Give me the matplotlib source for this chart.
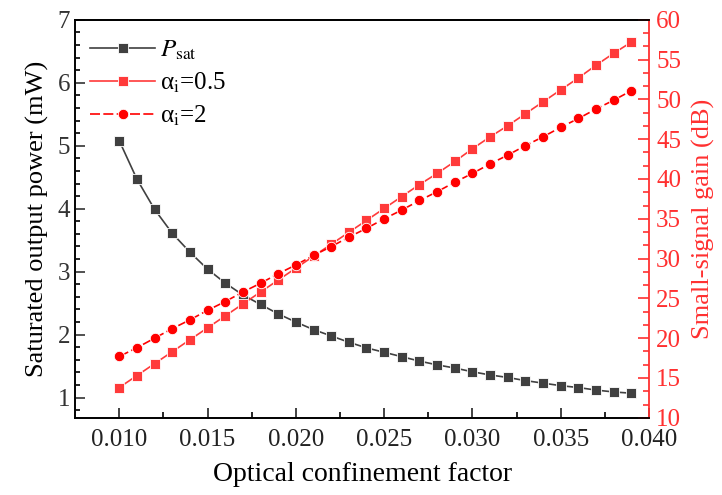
import numpy as np
import matplotlib
matplotlib.use("Agg")
import matplotlib.pyplot as plt
from matplotlib.ticker import MultipleLocator, AutoMinorLocator

plt.rcParams['font.family'] = ['Liberation Serif', 'DejaVu Serif']
plt.rcParams['mathtext.fontset'] = 'stix'

# confinement factor (x axis)
gamma = [0.010, 0.011, 0.012, 0.013, 0.014, 0.015, 0.016, 0.017, 0.018, 0.019,
         0.020, 0.021, 0.022, 0.023, 0.024, 0.025, 0.026, 0.027, 0.028, 0.029,
         0.030, 0.031, 0.032, 0.033, 0.034, 0.035, 0.036, 0.037, 0.038, 0.039]

# saturated output power, mW
p_sat = [5.08, 4.47, 3.99, 3.61, 3.31, 3.04, 2.82, 2.63, 2.48, 2.33,
         2.20, 2.08, 1.98, 1.88, 1.79, 1.72, 1.65, 1.58, 1.52, 1.47,
         1.41, 1.36, 1.32, 1.27, 1.23, 1.19, 1.16, 1.12, 1.09, 1.07]

# small-signal gain, dB
gain_a05 = [13.8, 15.3, 16.8, 18.3, 19.8, 21.3, 22.8, 24.3, 25.8, 27.3,
            28.8, 30.3, 31.8, 33.3, 34.8, 36.3, 37.8, 39.3, 40.7, 42.2,
            43.8, 45.3, 46.7, 48.2, 49.7, 51.2, 52.7, 54.3, 55.8, 57.2]
gain_a2 = [17.7, 18.8, 20.0, 21.2, 22.3, 23.5, 24.6, 25.8, 26.9, 28.1,
           29.2, 30.4, 31.5, 32.7, 33.8, 35.0, 36.1, 37.3, 38.4, 39.6,
           40.7, 41.9, 43.0, 44.2, 45.3, 46.5, 47.6, 48.8, 49.9, 51.1]

red = '#ff3030'

fig = plt.figure(figsize=(7.22, 4.95), dpi=100)
ax = fig.add_axes([0.104, 0.156, 0.795, 0.804])
ax2 = ax.twinx()

l1, = ax.plot(gamma, p_sat, '-s', color='#404040', lw=1.2, ms=7.5,
              mec='white', mew=0.6, label=r'$P_\mathrm{sat}$')
l2, = ax2.plot(gamma, gain_a05, '-s', color='#ff3a3a', lw=1.2, ms=7.5,
               mec='white', mew=0.6, label='α$_\\mathrm{i}$=0.5')
l3, = ax2.plot(gamma, gain_a2, '--o', color='#ff0000', lw=1.2, ms=7.5,
               mec='white', mew=0.6, dashes=(6, 2), label='α$_\\mathrm{i}$=2')

ax.set_xlim(0.0075, 0.040)
ax.set_ylim(0.68, 7)
ax2.set_ylim(10, 60)

ax.xaxis.set_major_locator(MultipleLocator(0.005))
ax.xaxis.set_minor_locator(AutoMinorLocator(2))
ax.yaxis.set_major_locator(MultipleLocator(1))
ax.yaxis.set_minor_locator(AutoMinorLocator(5))
ax2.yaxis.set_major_locator(MultipleLocator(5))
ax2.yaxis.set_minor_locator(AutoMinorLocator(3))
ax.xaxis.set_major_formatter(matplotlib.ticker.FormatStrFormatter('%.3f'))

ax.tick_params(axis='x', which='major', direction='in', length=7, width=1.2,
               labelsize=18, colors='#222222', pad=8)
ax.tick_params(axis='x', which='minor', direction='in', length=4, width=1.2)
ax.tick_params(axis='y', which='major', direction='in', length=7, width=1.2,
               labelsize=18, colors='#333333')
ax.tick_params(axis='y', which='minor', direction='in', length=3.5, width=1.2)
ax.tick_params(top=False)
ax2.tick_params(axis='y', which='major', direction='in', length=8, width=1.2,
                labelsize=18, colors=red, pad=5)
ax2.tick_params(axis='y', which='minor', direction='in', length=4.5, width=1.2,
                colors=red)

for s in ['left', 'bottom', 'top']:
    ax.spines[s].set_linewidth(1.3)
    ax2.spines[s].set_linewidth(1.3)
ax.spines['left'].set_color('#555555')
ax.spines['bottom'].set_color('#222222')
ax2.spines['right'].set_color(red)
ax2.spines['right'].set_linewidth(1.3)
ax.spines['right'].set_visible(False)

ax.set_xlabel('Optical confinement factor', fontsize=20, labelpad=8)
ax.set_ylabel('Saturated output power (mW)', fontsize=19, labelpad=6)
ax2.set_ylabel('Small-signal gain (dB)', fontsize=19, color=red, labelpad=8)

ax.legend(handles=[l1, l2, l3], loc='upper left', frameon=False, fontsize=18,
          handlelength=2.6, handletextpad=0.2, labelspacing=0.35,
          borderaxespad=0.2, bbox_to_anchor=(0.0, 0.99))

fig.savefig('out.png', dpi=100)
